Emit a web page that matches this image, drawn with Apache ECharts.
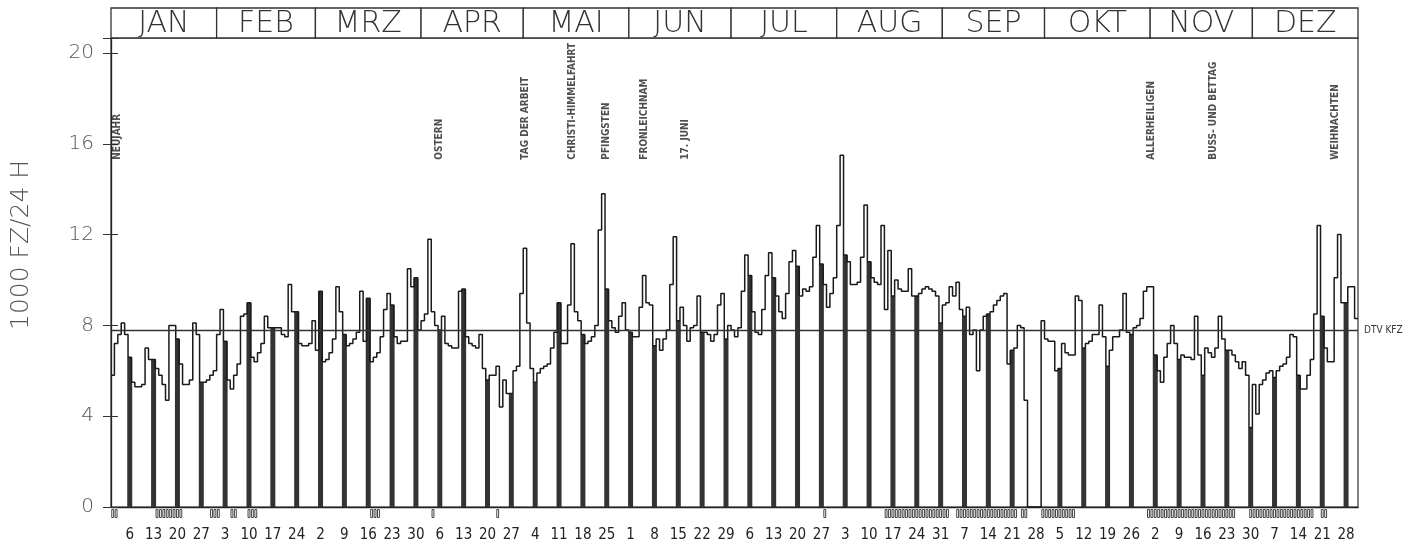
<!DOCTYPE html>
<html><head><meta charset="utf-8">
<script src="https://cdn.jsdelivr.net/npm/echarts@6/dist/echarts.min.js"></script>
<style>html,body{margin:0;padding:0;background:#fff}#c{width:1428px;height:548px}</style>
</head><body><div id="c"></div>
<script>
// ---- data (1980, daily traffic volume, 1000 vehicles / 24 h) ----
const months = ['JAN','FEB','MRZ','APR','MAI','JUN','JUL','AUG','SEP','OKT','NOV','DEZ'];
const monthDays = [31,29,31,30,31,30,31,31,30,31,30,31];
const jan = [5.8,7.2,7.6,8.1,7.6,6.6, 5.5,5.3,5.3,5.4,7.0,6.5,6.5, 6.1,5.8,5.4,4.7,8.0,8.0,7.4, 6.3,5.4,5.4,5.6,8.1,7.6,5.5, 5.5,5.6,5.8,6.0];
const feb = [7.6,8.7,7.3, 5.6,5.2,5.8,6.3,8.4,8.5,9.0, 6.6,6.4,6.8,7.2,8.4,7.9,7.9, 7.9,7.9,7.6,7.5,9.8,8.6,8.6, 7.2,7.1,7.1,7.2,8.2];
const mar = [6.9,9.5, 6.4,6.5,6.8,7.4,9.7,8.6,7.6, 7.1,7.2,7.4,7.7,9.5,7.3,9.2, 6.4,6.6,6.8,7.5,8.7,9.4,8.9, 7.5,7.2,7.3,7.3,10.5,9.7,10.1, 7.8];
const apr = [8.2,8.5,11.8,8.6,8.0,7.8, 8.4,7.2,7.1,7.0,7.0,9.5,9.6, 7.5,7.2,7.1,7.0,7.6,6.1,5.6, 5.8,5.8,6.2,4.4,5.6,5.0,5.0, 6.0,6.2,9.4];
const may = [11.4,8.1,6.1,5.5, 5.9,6.1,6.2,6.3,7.0,7.7,9.0, 7.2,7.2,8.9,11.6,8.6,8.2,7.6, 7.2,7.3,7.5,8.0,12.2,13.8,9.6, 8.2,7.9,7.7,8.4,9.0,7.8];
const jun = [7.7, 7.5,7.5,8.8,10.2,9.0,8.9,7.1, 7.4,6.9,7.4,7.8,9.8,11.9,8.2, 8.8,8.0,7.3,7.9,8.0,9.3,7.7, 7.7,7.6,7.3,7.6,8.9,9.4,7.4, 8.0];
const jul = [7.8,7.5,7.9,9.5,11.1,10.2, 8.6,7.7,7.6,8.7,10.2,11.2,10.1, 9.3,8.6,8.3,9.4,10.8,11.3,10.6, 9.3,9.6,9.5,9.7,11.0,12.4,10.7, 9.8,8.8,9.4,10.1];
const aug = [12.4,15.5,11.1, 10.8,9.8,9.8,9.9,11.0,13.3,10.8, 10.1,9.9,9.8,12.4,8.7,11.3,9.3, 10.0,9.6,9.5,9.5,10.5,9.3,9.3, 9.4,9.6,9.7,9.6,9.5,9.3,8.1];
const sep = [8.9,9.0,9.7,9.3,9.9,8.7,8.4, 8.8,7.6,7.8,6.0,7.8,8.4,8.5, 8.6,8.9,9.1,9.3,9.4,6.3,6.9, 7.0,8.0,7.9,4.7,0,0,0,0, 8.2];
const oct = [7.4,7.3,7.3,6.0,6.1, 7.2,6.8,6.7,6.7,9.3,9.1,7.0, 7.2,7.3,7.6,7.6,8.9,7.5,6.2, 6.9,7.5,7.5,7.8,9.4,7.7,7.6, 7.9,8.0,8.3,9.5,9.7];
const nov = [9.7,6.7, 6.0,5.5,6.6,7.2,8.0,7.2,6.5, 6.7,6.6,6.6,6.5,8.4,6.7,5.8, 7.0,6.8,6.6,7.0,8.4,7.4,6.9, 6.9,6.7,6.4,6.1,6.4,5.8,3.5];
const dec = [5.4,4.1,5.4,5.6,5.9,6.0,5.7, 6.0,6.2,6.3,6.6,7.6,7.5,5.8, 5.2,5.2,5.8,6.5,8.5,12.4,8.4, 7.0,6.4,6.4,10.1,12.0,9.0,9.0, 9.7,9.7,8.3];
const firstSunday = 6; // day-of-year of the first Sunday
const sundayLabels = [6,13,20,27,3,10,17,24,2,9,16,23,30,6,13,20,27,4,11,18,25,1,8,15,22,29,6,13,20,27,3,10,17,24,31,7,14,21,28,5,12,19,26,2,9,16,23,30,7,14,21,28];
const holidays = [[1,'NEUJAHR'],[97,'OSTERN'],[122,'TAG DER ARBEIT'],[136,'CHRISTI-HIMMELFAHRT'],[146,'PFINGSTEN'],[157,'FRONLEICHNAM'],[169,'17. JUNI'],[306,'ALLERHEILIGEN'],[324,'BUSS- UND BETTAG'],[360,'WEIHNACHTEN']];
const dtv = 7.8;
const yTicks = [0,4,8,12,16,20];
const markedRanges = [[1,2],[14,21],[30,32],[36,37],[41,43],[77,79],[95,95],[114,114],[210,210],[228,246],[249,266],[268,269],[274,283],[305,330],[335,353],[356,357]];

// ---- build ----
const values = [].concat(jan,feb,mar,apr,may,jun,jul,aug,sep,oct,nov,dec);
const N = values.length;
const cats = values.map((_, i) => String(i + 1));
const isSunday = i => (i + 1 - firstSunday) % 7 === 0 && i + 1 >= firstSunday;
const labelMap = {}; let s = 0;
values.forEach((v, i) => { if (isSunday(i)) labelMap[i] = sundayLabels[s++]; });
const stepData = values.map((v, i) => [i, v]); stepData.push([N, values[N - 1]]);
const sundayData = values.map((v, i) => isSunday(i) ? v : '-');
const marked = new Set();
markedRanges.forEach(([a, b]) => { for (let d = a; d <= b; d++) marked.add(d - 1); });
const markData = values.map((v, i) => marked.has(i) ? 1 : '-');
const monthData = []; let acc = 0;
months.forEach((m, k) => { monthData.push([acc, acc + monthDays[k], m]); acc += monthDays[k]; });
const labelBase = 15.3;
const yMax = 20.66;

const chart = echarts.init(document.getElementById('c'));
const thin = "'DejaVu Sans', sans-serif";
const narrow = "'DejaVu Sans Condensed','Liberation Sans Narrow','Roboto Condensed','DejaVu Sans',sans-serif";
chart.setOption({
  animation: false,
  grid: [
    {left: 111, right: 70, top: 38, bottom: 41, show: true, borderColor: '#333', borderWidth: 1.2},
    {left: 111, right: 70, top: 8, height: 30},
    {left: 111, right: 70, top: 509, height: 9}
  ],
  xAxis: [
    {type: 'category', gridIndex: 0, data: cats, boundaryGap: true,
     axisLine: {lineStyle: {color: '#222', width: 1.3}},
     axisTick: {interval: (i) => isSunday(i), alignWithLabel: true, length: 5, lineStyle: {color: '#222'}},
     axisLabel: {interval: (i) => isSunday(i), formatter: (v, i) => labelMap[i] !== undefined ? String(labelMap[i]) : '',
       margin: 21, fontSize: 15, fontFamily: narrow, color: '#222'}},
    {type: 'value', gridIndex: 0, min: 0, max: N, show: false},
    {type: 'value', gridIndex: 1, min: 0, max: N, show: false},
    {type: 'category', gridIndex: 2, data: cats, show: false}
  ],
  yAxis: [
    {type: 'value', gridIndex: 0, min: 0, max: yMax, interval: 4,
     axisLine: {show: true, lineStyle: {color: '#222', width: 1.3}},
     axisTick: {show: true, length: 8, lineStyle: {color: '#333'}},
     axisLabel: {formatter: v => yTicks.indexOf(v) >= 0 ? String(v) : '', fontSize: 20, color: '#555', margin: 17, fontFamily: thin, fontWeight: 200},
     splitLine: {show: false}},
    {type: 'value', gridIndex: 0, min: 0, max: yMax, interval: 4, position: 'left',
     axisLine: {show: false}, axisTick: {show: true, inside: true, length: 7, lineStyle: {color: '#333'}},
     axisLabel: {show: false}, splitLine: {show: false}},
    {type: 'value', gridIndex: 1, min: 0, max: 1, show: false},
    {type: 'value', gridIndex: 2, min: 0, max: 1, show: false}
  ],
  graphic: [
    {type: 'text', x: 21, y: 245, rotation: Math.PI / 2,
     style: {text: '1000 FZ/24 H', fontSize: 25, fontFamily: thin, fontWeight: 200, fill: '#555', align: 'center', verticalAlign: 'middle'}}
  ],
  series: [
    {type: 'bar', xAxisIndex: 0, yAxisIndex: 0, data: sundayData, barWidth: 5,
     itemStyle: {color: '#333'}, z: 3, silent: true},
    {type: 'line', xAxisIndex: 1, yAxisIndex: 0, data: stepData, step: 'end', symbol: 'none',
     lineStyle: {color: '#1a1a1a', width: 1.5}, z: 4, silent: true,
     markLine: {silent: true, symbol: 'none', data: [{yAxis: dtv}],
       lineStyle: {color: '#333', width: 1.3, type: 'solid'},
       label: {position: 'end', formatter: 'DTV KFZ', fontSize: 10, color: '#333', fontFamily: narrow, distance: 6}}},
    {type: 'scatter', xAxisIndex: 1, yAxisIndex: 0, symbolSize: 1, itemStyle: {color: 'transparent'},
     data: holidays.map(h => [Math.max(h[0] - 0.5, 1.9), labelBase, h[1]]),
     label: {show: true, position: 'inside', rotate: 90, align: 'left', verticalAlign: 'middle',
       formatter: p => p.data[2], fontSize: 10, fontWeight: 'bold', fontFamily: narrow, color: '#222'},
     z: 5, silent: true},
    {type: 'custom', xAxisIndex: 2, yAxisIndex: 2, data: monthData, z: 10, silent: true,
     renderItem: (params, api) => {
       const p0 = api.coord([api.value(0), 1]);
       const p1 = api.coord([api.value(1), 0]);
       return {type: 'group', children: [
         {type: 'rect', shape: {x: p0[0], y: p0[1], width: p1[0] - p0[0], height: p1[1] - p0[1]},
          style: {fill: '#fff', stroke: '#333', lineWidth: 1.3}},
         {type: 'text', style: {text: monthData[params.dataIndex][2], x: (p0[0] + p1[0]) / 2, y: (p0[1] + p1[1]) / 2 + 1,
          align: 'center', verticalAlign: 'middle', fontSize: 30, fontFamily: thin, fontWeight: 200, fill: '#333'}}
       ]};
     }},
    {type: 'bar', xAxisIndex: 3, yAxisIndex: 3, data: markData, barCategoryGap: '15%',
     itemStyle: {color: '#fff', borderColor: '#444', borderWidth: 1}, silent: true}
  ]
});
</script>
</body></html>
